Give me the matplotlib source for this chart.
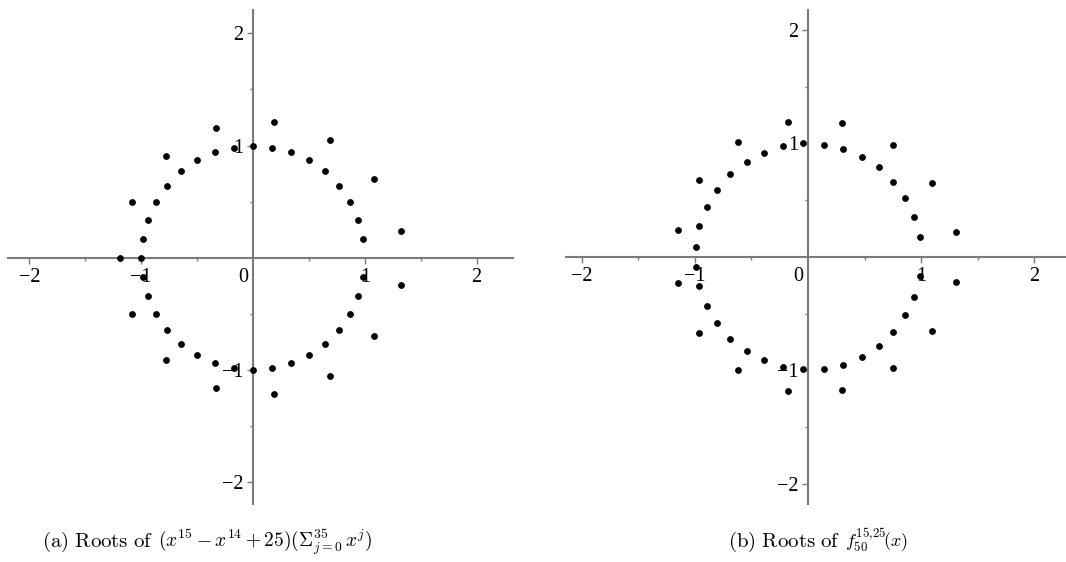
import matplotlib
matplotlib.use("Agg")
import matplotlib.pyplot as plt
from matplotlib.ticker import FixedLocator, NullFormatter

# ---- data ----
# (a) roots of sum_{j=0}^{35} x^j (unit circle)
a_circle_x = [0.98, 0.94, 0.87, 0.77, 0.64, 0.50, 0.34, 0.17, 0.00, -0.17, -0.34, -0.50,
              -0.64, -0.77, -0.87, -0.94, -0.98, -1.00, -0.98, -0.94, -0.87, -0.77, -0.64,
              -0.50, -0.34, -0.17, 0.00, 0.17, 0.34, 0.50, 0.64, 0.77, 0.87, 0.94, 0.98]
a_circle_y = [0.17, 0.34, 0.50, 0.64, 0.77, 0.87, 0.94, 0.98, 1.00, 0.98, 0.94, 0.87,
              0.77, 0.64, 0.50, 0.34, 0.17, 0.00, -0.17, -0.34, -0.50, -0.64, -0.77,
              -0.87, -0.94, -0.98, -1.00, -0.98, -0.94, -0.87, -0.77, -0.64, -0.50, -0.34, -0.17]
# (a) roots of x^15 - x^14 + 25
a_trin_x = [1.32, 1.08, 0.69, 0.19, -0.33, -0.78, -1.08, -1.19, -1.08, -0.78, -0.33, 0.19, 0.69, 1.08, 1.32]
a_trin_y = [0.24, 0.70, 1.05, 1.21, 1.16, 0.91, 0.50, 0.00, -0.50, -0.91, -1.16, -1.21, -1.05, -0.70, -0.24]

# (b) roots of f_50^{15,25}(x)
b_x = [-0.18, 0.30, -0.62, 0.75, -0.22, -0.04, 0.14, 0.31, -0.39, 0.48, -0.54, 0.63, -0.69,
       -0.96, 0.75, 1.10, -0.80, 0.86, -0.89, 0.94, -0.96, -1.15, 1.31, 0.99, -0.99,
       -0.99, -1.15, -0.96, 0.99, 1.31, -0.89, 0.94, 0.86, -0.80, -0.96, 1.10, 0.75, -0.69,
       0.63, -0.54, 0.48, -0.39, -0.62, -0.22, -0.04, 0.14, 0.31, 0.75, -0.18, 0.30]
b_y = [1.19, 1.18, 1.01, 0.99, 0.98, 1.00, 0.99, 0.95, 0.92, 0.88, 0.84, 0.79, 0.73,
       0.68, 0.66, 0.65, 0.59, 0.52, 0.44, 0.35, 0.27, 0.24, 0.22, 0.18, 0.09,
       -0.09, -0.23, -0.26, -0.17, -0.22, -0.43, -0.35, -0.51, -0.58, -0.67, -0.65, -0.66, -0.72,
       -0.78, -0.83, -0.88, -0.91, -1.00, -0.97, -0.99, -0.99, -0.95, -0.98, -1.18, -1.17]

major_ticks = [-2, -1, 1, 2]
major_labels = ["\u22122", "\u22121", "1", "2"]
minor_ticks = [-1.5, -0.5, 0.5, 1.5]

caption_prefix = [r"$\mathrm{(a)\ Roots\ of}$", r"$\mathrm{(b)\ Roots\ of}$"]
caption_math = [r"$(x^{15}-x^{14}+25)(\Sigma_{j=0}^{35}\,x^j)$",
                r"$f_{50}^{15,\!25}\!(x)$"]
caption_math_size = [14, 13]

plt.rcParams['mathtext.fontset'] = 'cm'
W, H = 1066, 562
fig = plt.figure(figsize=(W / 100, H / 100), dpi=100)

AXC = '#7a7a7a'
TICKFONT = dict(family='Liberation Serif', size=14.5)


def make_axes(px_left, px_right, px_top, px_bottom, xlim, ylim):
    ax = fig.add_axes([px_left / W, 1 - px_bottom / H,
                       (px_right - px_left) / W, (px_bottom - px_top) / H])
    ax.set_xlim(*xlim)
    ax.set_ylim(*ylim)
    ax.patch.set_alpha(0)
    for s in ['top', 'right']:
        ax.spines[s].set_visible(False)
    for s in ['left', 'bottom']:
        ax.spines[s].set_position(('data', 0))
        ax.spines[s].set_color(AXC)
        ax.spines[s].set_linewidth(1.5)
    ax.xaxis.set_major_locator(FixedLocator(major_ticks))
    ax.yaxis.set_major_locator(FixedLocator(major_ticks))
    ax.set_xticklabels(major_labels, fontdict=TICKFONT)
    ax.set_yticklabels(major_labels, fontdict=TICKFONT)
    ax.xaxis.set_minor_locator(FixedLocator(minor_ticks))
    ax.yaxis.set_minor_locator(FixedLocator(minor_ticks))
    ax.xaxis.set_minor_formatter(NullFormatter())
    ax.yaxis.set_minor_formatter(NullFormatter())
    ax.tick_params(which='major', direction='out', length=4, width=1.0, color=AXC,
                   labelcolor='black', pad=3)
    ax.tick_params(which='minor', direction='out', length=2.5, width=1.0, color=AXC)
    ax.annotate("0", xy=(0, 0), xytext=(-5, -10), textcoords='offset pixels',
                ha='right', va='top', fontfamily='Liberation Serif', fontsize=14.5)
    return ax


axL = make_axes(8.3, 512.7, 10, 504.3, (-2.188, 2.322), (-2.196, 2.208))
axL.scatter(a_circle_x, a_circle_y, s=24, color='black', zorder=5, clip_on=False, linewidths=0)
axL.scatter(a_trin_x, a_trin_y, s=24, color='black', zorder=5, clip_on=False, linewidths=0)

axR = make_axes(565.7, 1066, 10, 504.3, (-2.141, 2.280), (-2.179, 2.176))
axR.scatter(b_x, b_y, s=24, color='black', zorder=5, clip_on=False, linewidths=0)

# captions: text prefix, then the formula right after it on the same baseline
base_y = 1 - 547 / H
fig.canvas.draw()
renderer = fig.canvas.get_renderer()
for x0, pre, mth, ms in zip([42, 728], caption_prefix, caption_math, caption_math_size):
    t = fig.text(x0 / W, base_y, pre, fontsize=15, ha='left', va='baseline')
    bb = t.get_window_extent(renderer)
    fig.text((bb.x1 + 5) / W, base_y, mth, fontsize=ms, ha='left', va='baseline')

fig.savefig("out.png", dpi=100)
